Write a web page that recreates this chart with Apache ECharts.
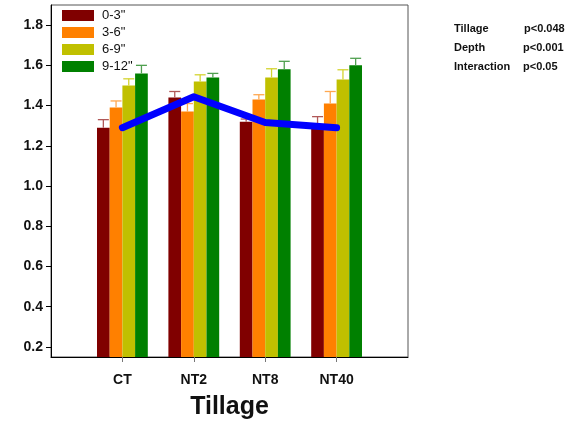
<!DOCTYPE html>
<html>
<head>
<meta charset="utf-8">
<script src="https://cdn.jsdelivr.net/npm/echarts@6/dist/echarts.min.js"></script>
<style>html,body{margin:0;padding:0;background:#fff}#c{width:573px;height:426px}</style>
</head>
<body>
<div id="c"></div>
<script>
var categories = ['CT', 'NT2', 'NT8', 'NT40'];
var seriesNames = ['0-3"', '3-6"', '6-9"', '9-12"'];
var depth03 = [1.29, 1.44, 1.32, 1.29];
var depth36 = [1.39, 1.37, 1.43, 1.41];
var depth69 = [1.50, 1.52, 1.54, 1.53];
var depth912 = [1.56, 1.54, 1.58, 1.60];
var err03 = [0.04, 0.03, 0.013, 0.055];
var err36 = [0.033, 0.04, 0.024, 0.06];
var err69 = [0.033, 0.033, 0.043, 0.048];
var err912 = [0.04, 0.02, 0.04, 0.035];
var meanLine = [1.29, 1.444, 1.316, 1.29];
var yTicks = [0.2, 0.4, 0.6, 0.8, 1.0, 1.2, 1.4, 1.6, 1.8];

var barColors = ['#800000', '#ff8000', '#c0c000', '#008000'];
var errColors = ['#b05858', '#ffa850', '#d4d430', '#50a050'];
var BAR_W = 12.7;

function pad(arr) { return ['-'].concat(arr, ['-']); }
var xCats = [''].concat(categories, ['']);
var values = [depth03, depth36, depth69, depth912];
var errs = [err03, err36, err69, err912];

var series = [];
values.forEach(function (v, i) {
  series.push({
    name: seriesNames[i], type: 'bar', data: pad(v),
    barWidth: BAR_W, barGap: '0%',
    itemStyle: { color: barColors[i] }, z: 2
  });
});
values.forEach(function (v, i) {
  var data = [];
  v.forEach(function (val, j) { data.push([j + 1, val, val + errs[i][j]]); });
  series.push({
    type: 'custom', data: data, z: 3,
    renderItem: function (params, api) {
      var p0 = api.coord([api.value(0), api.value(1)]);
      var p1 = api.coord([api.value(0), api.value(2)]);
      var x = p0[0] + (i - 1.5) * BAR_W;
      var half = 5.5;
      return {
        type: 'group',
        children: [
          { type: 'line', shape: { x1: x, y1: p0[1], x2: x, y2: p1[1] }, style: { stroke: errColors[i], lineWidth: 1.3 } },
          { type: 'line', shape: { x1: x - half, y1: p1[1], x2: x + half, y2: p1[1] }, style: { stroke: errColors[i], lineWidth: 1.3 } }
        ]
      };
    }
  });
});
series.push({
  type: 'line', data: pad(meanLine), symbol: 'none', z: 5,
  lineStyle: { color: '#0000ff', width: 7, cap: 'round', join: 'round' }
});

var chart = echarts.init(document.getElementById('c'));
chart.setOption({
  animation: false,
  grid: { left: 51, right: 165, top: 5, bottom: 69, show: true, borderColor: '#555', borderWidth: 1 },
  legend: {
    data: seriesNames, orient: 'vertical', left: 62, top: 9, padding: 0,
    itemWidth: 32, itemHeight: 11, itemGap: 4, icon: 'rect',
    textStyle: { fontFamily: 'Liberation Sans, Arial', fontSize: 13, color: '#111', padding: [0, 0, 0, 3] }
  },
  xAxis: {
    type: 'category', data: xCats, boundaryGap: false,
    axisLine: { lineStyle: { color: '#000', width: 1 } },
    axisTick: { length: 5, lineStyle: { color: '#777' }, interval: function (idx, val) { return val !== ''; } },
    axisLabel: { fontFamily: 'Liberation Sans, Arial', fontWeight: 'bold', fontSize: 14, color: '#111', margin: 16, interval: 0 },
    name: 'Tillage', nameLocation: 'middle', nameGap: 38,
    nameTextStyle: { fontFamily: 'Liberation Sans, Arial', fontWeight: 'bold', fontSize: 25, color: '#111' },
    splitLine: { show: false }
  },
  yAxis: {
    type: 'value', min: 0.15, max: 1.9,
    axisLine: { show: true, lineStyle: { color: '#000', width: 1 } },
    axisTick: { show: true, length: 5, customValues: yTicks, lineStyle: { color: '#000' } },
    axisLabel: { customValues: yTicks, fontFamily: 'Liberation Sans, Arial', fontWeight: 'bold', fontSize: 14, color: '#111', margin: 8,
      formatter: function (v) { return v.toFixed(1); } },
    splitLine: { show: false }
  },
  graphic: [
    { type: 'text', left: 454, top: 23, style: { text: 'Tillage', font: 'bold 11px Liberation Sans, Arial', fill: '#111' } },
    { type: 'text', left: 454, top: 42, style: { text: 'Depth', font: 'bold 11px Liberation Sans, Arial', fill: '#111' } },
    { type: 'text', left: 454, top: 61, style: { text: 'Interaction', font: 'bold 11px Liberation Sans, Arial', fill: '#111' } },
    { type: 'text', left: 524, top: 23, style: { text: 'p<0.048', font: 'bold 11px Liberation Sans, Arial', fill: '#111' } },
    { type: 'text', left: 523, top: 42, style: { text: 'p<0.001', font: 'bold 11px Liberation Sans, Arial', fill: '#111' } },
    { type: 'text', left: 523, top: 61, style: { text: 'p<0.05', font: 'bold 11px Liberation Sans, Arial', fill: '#111' } }
  ],
  series: series
});
</script>
</body>
</html>
